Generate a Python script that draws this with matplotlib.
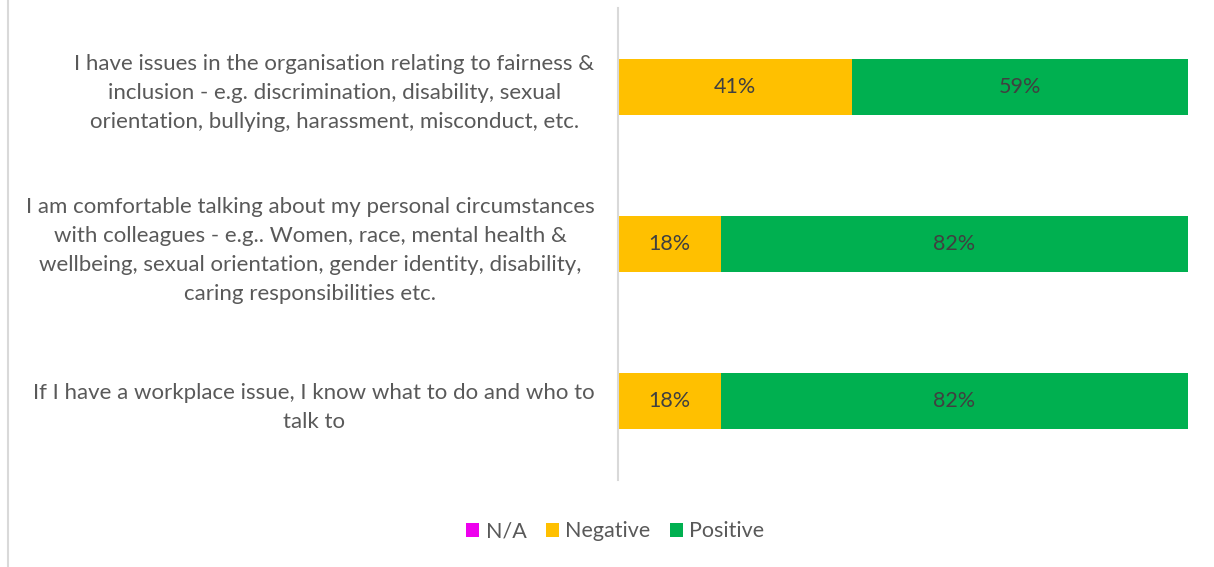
import matplotlib.pyplot as plt
import numpy as np

plt.rcParams['font.family'] = ['Lato', 'DejaVu Sans']

# Survey statements (top to bottom) and response shares in percent
questions = [
    "I have issues in the organisation relating to fairness &\n"
    "inclusion - e.g. discrimination, disability, sexual\n"
    "orientation, bullying, harassment, misconduct, etc.",
    "I am comfortable talking about my personal circumstances\n"
    "with colleagues - e.g.. Women, race, mental health &\n"
    "wellbeing, sexual orientation, gender identity, disability,\n"
    "caring responsibilities etc.",
    "If I have a workplace issue, I know what to do and who to\n"
    "talk to",
]
na_vals = [0, 0, 0]
negative_vals = [41, 18, 18]
positive_vals = [59, 82, 82]

series_names = ["N/A", "Negative", "Positive"]
series_colors = ["#EE00EE", "#FFC000", "#00B050"]
text_grey = "#595959"

fig = plt.figure(figsize=(12.14, 5.67), dpi=100)
ax = fig.add_axes([0.509, 0.1534, 0.4697, 0.8325])

y = np.arange(len(questions))
left = np.zeros(len(questions))
for name, vals, col in zip(series_names, [na_vals, negative_vals, positive_vals], series_colors):
    vals = np.array(vals, dtype=float)
    bars = ax.barh(y, vals, left=left, height=0.357, color=col, label=name)
    for b, v in zip(bars, vals):
        if v > 0:
            ax.text(b.get_x() + b.get_width() / 2, b.get_y() + b.get_height() / 2,
                    f"{v:.0f}%", ha='center', va='center', fontsize=15.5, color="#404040")
    left += vals

ax.set_xlim(0, 100)
ax.set_ylim(2.5, -0.5)
ax.set_yticks(y)
ax.set_yticklabels(questions, fontsize=16, color=text_grey, multialignment='center',
                   linespacing=1.56)
ax.tick_params(axis='y', length=0, pad=17)
ax.set_xticks([])
for s in ['top', 'right', 'bottom']:
    ax.spines[s].set_visible(False)
ax.spines['left'].set_color("#D9D9D9")
ax.spines['left'].set_linewidth(1.5)

# chart-area frame edge on the left
fig.add_artist(plt.Line2D([0.0066, 0.0066], [0, 1], color="#D9D9D9", lw=1.5))

fig.legend(loc='center', bbox_to_anchor=(0.507, 0.063), ncol=3, frameon=False,
           fontsize=15.5, handlelength=0.6, handleheight=0.6, handletextpad=0.3,
           columnspacing=0.9, labelcolor=text_grey)

fig.savefig("out.png", dpi=100)
